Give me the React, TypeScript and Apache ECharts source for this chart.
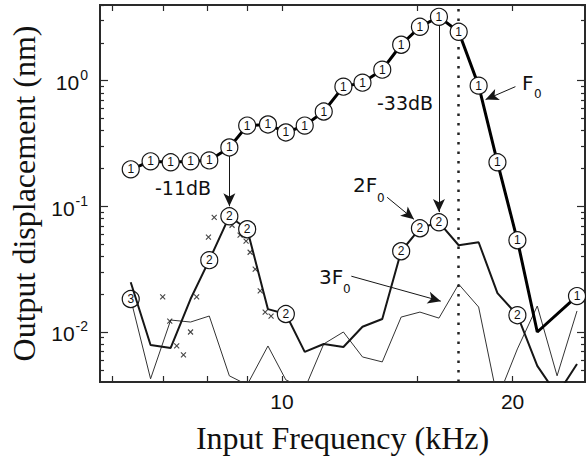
import React, { useEffect, useRef } from "react";
import * as echarts from "echarts";

// Input frequency (kHz) of each measured point
const FREQ_KHZ = [6.35, 6.74, 7.16, 7.6, 8.04, 8.54, 9.01, 9.59, 10.12, 10.71, 11.34, 12.03, 12.74, 13.52, 14.31, 15.14, 16.03, 17.01, 18.06, 19.11, 20.29, 21.54, 22.86, 24.27];
// Fundamental F0 (nm)
const F0_NM = [0.197, 0.228, 0.224, 0.228, 0.232, 0.294, 0.439, 0.448, 0.387, 0.439, 0.568, 0.896, 0.964, 1.223, 1.931, 2.683, 3.221, 2.448, 0.913, 0.224, 0.0537, 0.01, null, 0.0193];
const F0_CIRCLED = [0, 1, 2, 3, 4, 5, 6, 7, 8, 9, 10, 11, 12, 13, 14, 15, 16, 17, 18, 19, 20, 23];
// Second harmonic 2F0 (nm)
const F2_NM = [0.0249, 0.00788, 0.00746, 0.0183, 0.0373, 0.0833, 0.0657, 0.0152, 0.0139, 0.00694, 0.00803, 0.0076, 0.011, 0.0127, 0.0439, 0.0669, 0.0746, 0.049, 0.0518, 0.0204, 0.0136, 0.00537, 0.00316, 0.00557];
const F2_CIRCLED = [4, 5, 6, 8, 14, 15, 16, 20];
// Third harmonic 3F0 (nm)
const F3_NM = [0.0183, 0.00424, 0.01245, 0.012, 0.0134, 0.00448, 0.0038, 0.00774, 0.00416, 0.00353, 0.00803, 0.01, 0.00633, 0.00578, 0.01315, 0.0144, 0.0129, 0.024, 0.0158, 0.00294, 0.00733, 0.0161, 0.00448, 0.0147];
const F3_CIRCLED = [0];
// Extra measurements (crosses)
const CROSS_FREQ = [6.99, 7.14, 7.29, 7.44, 7.6, 7.74, 8.02, 8.16, 8.61, 8.82, 8.98, 9.09, 9.23, 9.37, 9.51, 9.68];
const CROSS_NM = [0.019, 0.0122, 0.00774, 0.00657, 0.01, 0.019, 0.0568, 0.0818, 0.0707, 0.0589, 0.0528, 0.0431, 0.0316, 0.0212, 0.0144, 0.0134];

const X_MIN = 5.79;
const X_MAX = 24.86;
const Y_MIN = 0.004;
const Y_MAX = 4;
const X_TICKS = [6, 7, 8, 9, 10, 15, 20];
const X_LABELS = [10, 20];
const Y_DECADES = [0.01, 0.1, 1];
const Y_MINOR = [0.005, 0.006, 0.007, 0.008, 0.009, 0.02, 0.03, 0.04, 0.05, 0.06, 0.07, 0.08, 0.09, 0.2, 0.3, 0.4, 0.5, 0.6, 0.7, 0.8, 0.9, 2, 3, 4];
const STIMULUS_KHZ = 17;

// Annotation arrows [x1, y1, x2, y2] in data units
const ARROW_11DB = [8.54, 0.268, 8.54, 0.1];
const ARROW_33DB = [16.03, 3.05, 16.03, 0.09];
const ARROW_2F0 = [13.72, 0.118, 14.87, 0.0788];
const ARROW_F0 = [20.17, 0.896, 18.44, 0.707];
const ARROW_3F0 = [12.32, 0.0278, 16.12, 0.0176];

const L = Math.log10;
const INK = "#161616";

function circledSeries(values: (number | null)[], circled: number[], label: string) {
  const out: any[] = [];
  values.forEach((v, i) => {
    if (v == null) return;
    const on = circled.includes(i);
    out.push(
      on
        ? { value: [L(FREQ_KHZ[i]), L(v)] }
        : { value: [L(FREQ_KHZ[i]), L(v)], symbol: "none", label: { show: false } }
    );
  });
  return {
    data: out,
    symbol: "circle",
    symbolSize: 17,
    itemStyle: { color: "#fff", borderColor: INK, borderWidth: 1.2 },
    label: {
      show: true,
      position: "inside",
      formatter: label,
      fontSize: 12,
      fontFamily: "Liberation Sans",
      color: "#111",
    },
  };
}

function arrow(a: number[]) {
  return [{ coord: [L(a[0]), L(a[1])] }, { coord: [L(a[2]), L(a[3])] }];
}

const axisLine = { show: true, onZero: false, lineStyle: { color: "#2a2a2a", width: 2 } };
const tickStyle = { color: "#2a2a2a", width: 1.2 };

export default function App() {
  const ref = useRef<HTMLDivElement>(null);
  useEffect(() => {
    if (!ref.current) return;
    const chart = echarts.init(ref.current, undefined, { renderer: "svg" });
    const xBase = {
      type: "value",
      min: L(X_MIN),
      max: L(X_MAX),
      axisLine,
      splitLine: { show: false },
      axisTick: { inside: true, length: 6, customValues: X_TICKS.map(L), lineStyle: tickStyle },
    };
    const yBase = {
      type: "value",
      min: L(Y_MIN),
      max: L(Y_MAX),
      axisLine,
      splitLine: { show: false },
    };
    const f0 = circledSeries(F0_NM, F0_CIRCLED, "1");
    const f2 = circledSeries(F2_NM, F2_CIRCLED, "2");
    const f3 = circledSeries(F3_NM, F3_CIRCLED, "3");
    chart.setOption({
      animation: false,
      grid: { left: 97, right: 1, top: 5, bottom: 76, containLabel: false },
      xAxis: [
        {
          ...xBase,
          position: "bottom",
          axisLabel: {
            customValues: X_LABELS.map(L),
            formatter: (v: number) => String(Math.round(Math.pow(10, v))),
            fontSize: 21,
            fontFamily: "Liberation Sans",
            color: "#111",
            margin: 9,
          },
          name: "Input Frequency (kHz)",
          nameLocation: "middle",
          nameGap: 40,
          nameTextStyle: { fontFamily: "Liberation Serif", fontSize: 32, color: "#111" },
        },
        { ...xBase, position: "top", axisLabel: { show: false } },
      ],
      yAxis: [
        {
          ...yBase,
          position: "left",
          axisTick: { inside: true, length: 8, customValues: Y_DECADES.map(L), lineStyle: tickStyle },
          axisLabel: {
            customValues: Y_DECADES.map(L),
            margin: 12,
            formatter: (v: number) => `{b|10}{s|${Math.round(v)}}`,
            rich: {
              b: { fontSize: 21, fontFamily: "Liberation Sans", color: "#111", verticalAlign: "bottom" },
              s: { fontSize: 14, fontFamily: "Liberation Sans", color: "#111", verticalAlign: "bottom", padding: [0, 0, 11, 1] },
            },
          },
          name: "Output displacement (nm)",
          nameLocation: "middle",
          nameGap: 60,
          nameRotate: 90,
          nameTextStyle: { fontFamily: "Liberation Serif", fontSize: 32, color: "#111" },
        },
        {
          ...yBase,
          position: "left",
          axisTick: { inside: true, length: 4, customValues: Y_MINOR.map(L), lineStyle: tickStyle },
          axisLabel: { show: false },
        },
        {
          ...yBase,
          position: "right",
          axisTick: { inside: true, length: 8, customValues: Y_DECADES.map(L), lineStyle: tickStyle },
          axisLabel: { show: false },
        },
        {
          ...yBase,
          position: "right",
          axisTick: { inside: true, length: 4, customValues: Y_MINOR.map(L), lineStyle: tickStyle },
          axisLabel: { show: false },
        },
      ],
      series: [
        {
          type: "line",
          name: "3F0",
          ...f3,
          lineStyle: { color: "#333", width: 1 },
          z: 2,
          silent: true,
        },
        {
          type: "scatter",
          name: "cross",
          data: CROSS_FREQ.map((f, i) => [L(f), L(CROSS_NM[i])]),
          symbol: "path://M0,0L10,10M10,0L0,10",
          symbolSize: 5,
          itemStyle: { color: "none", borderColor: INK, borderWidth: 1.1 },
          z: 3,
          silent: true,
        },
        {
          type: "line",
          name: "2F0",
          ...f2,
          lineStyle: { color: INK, width: 2 },
          z: 4,
          silent: true,
        },
        {
          type: "line",
          name: "F0",
          ...f0,
          connectNulls: true,
          lineStyle: { color: "#000", width: 3 },
          z: 5,
          silent: true,
          markLine: {
            silent: true,
            symbol: ["none", "arrow"],
            symbolSize: [9, 13],
            label: { show: false },
            lineStyle: { color: INK, width: 1, type: "solid" },
            data: [
              arrow(ARROW_11DB),
              arrow(ARROW_33DB),
              arrow(ARROW_2F0),
              arrow(ARROW_F0),
              arrow(ARROW_3F0),
              [
                { coord: [L(STIMULUS_KHZ), L(Y_MIN)], symbol: "none", lineStyle: { type: [2.5, 7], width: 2.5, color: "#222" } },
                { coord: [L(STIMULUS_KHZ), L(Y_MAX)], symbol: "none" },
              ],
            ],
          },
        },
      ],
      graphic: [
        { type: "text", x: 155, y: 188, style: { text: "-11dB", fontSize: 19, fontFamily: "DejaVu Sans", fill: "#111", verticalAlign: "middle" } },
        { type: "text", x: 377, y: 103, style: { text: "-33dB", fontSize: 19, fontFamily: "DejaVu Sans", fill: "#111", verticalAlign: "middle" } },
        { type: "text", x: 353, y: 185, style: { text: "2F", fontSize: 20, fontFamily: "DejaVu Sans", fill: "#111", verticalAlign: "middle" } },
        { type: "text", x: 377, y: 198, style: { text: "0", fontSize: 12, fontFamily: "DejaVu Sans", fill: "#111", verticalAlign: "middle" } },
        { type: "text", x: 522, y: 83, style: { text: "F", fontSize: 20, fontFamily: "DejaVu Sans", fill: "#111", verticalAlign: "middle" } },
        { type: "text", x: 534, y: 94, style: { text: "0", fontSize: 12, fontFamily: "DejaVu Sans", fill: "#111", verticalAlign: "middle" } },
        { type: "text", x: 319, y: 277, style: { text: "3F", fontSize: 20, fontFamily: "DejaVu Sans", fill: "#111", verticalAlign: "middle" } },
        { type: "text", x: 343, y: 289, style: { text: "0", fontSize: 12, fontFamily: "DejaVu Sans", fill: "#111", verticalAlign: "middle" } },
      ],
    });
    return () => chart.dispose();
  }, []);
  return <div ref={ref} style={{ width: 586, height: 459, position: "absolute", left: 0, top: 0 }} />;
}
